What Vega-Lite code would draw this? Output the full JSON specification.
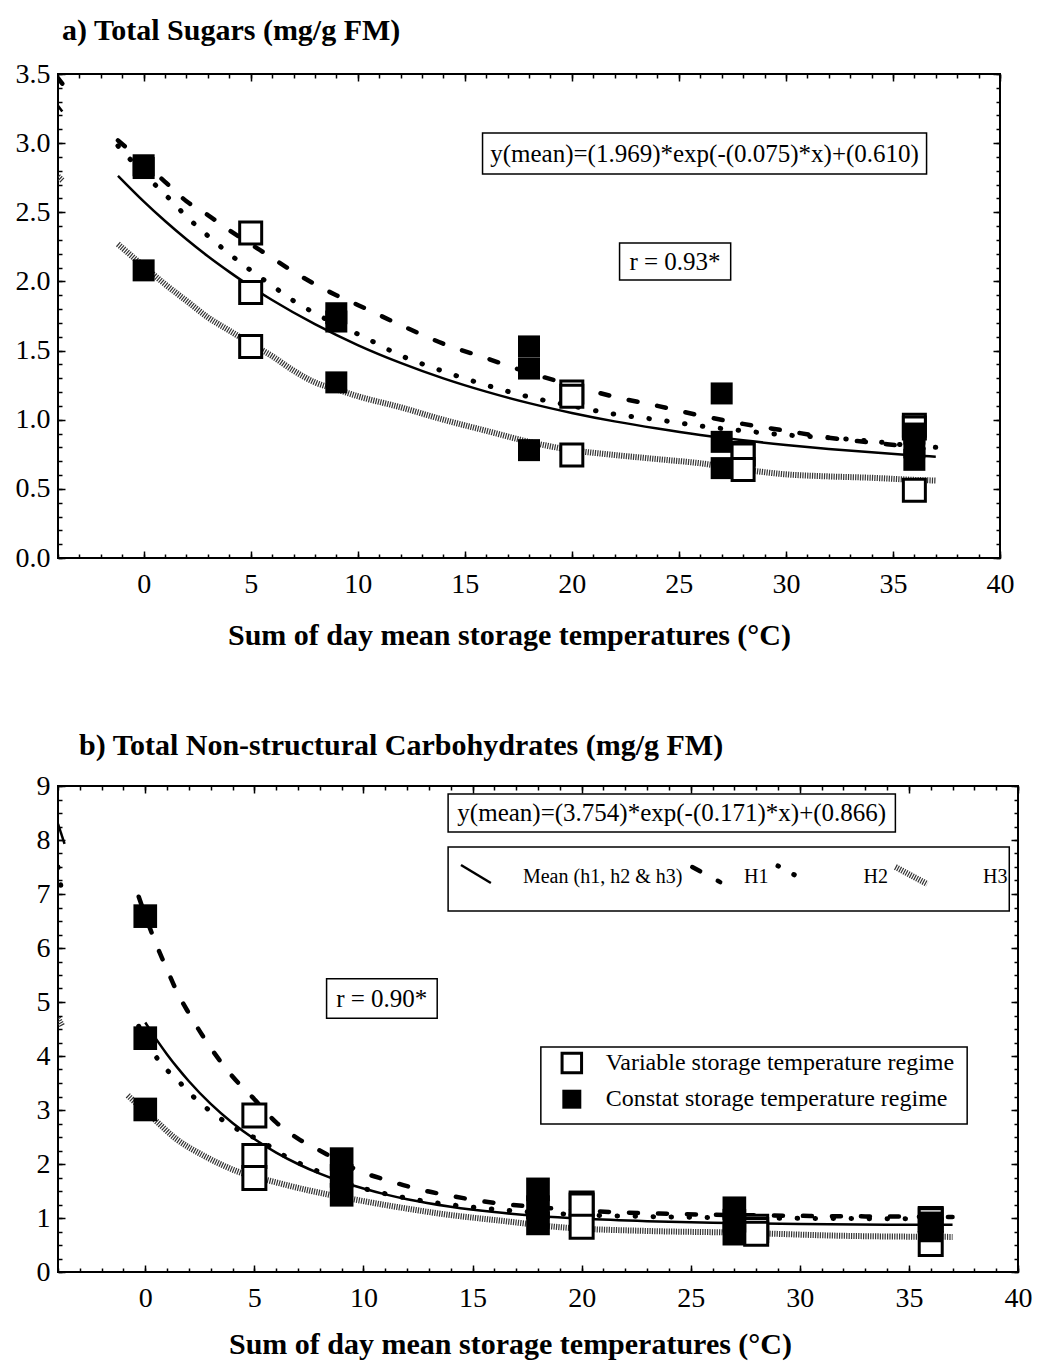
{
  "$schema": "https://vega.github.io/schema/vega-lite/v6.json",
  "background": "white",
  "padding": {"left": 14, "top": 15, "right": 5, "bottom": 2},
  "spacing": 79,
  "config": {
    "font": "Liberation Serif",
    "view": {"stroke": "black", "strokeWidth": 2},
    "axis": {"grid": false, "domain": false, "labelFont": "Liberation Serif", "labelFontSize": 28, "labelColor": "black", "titleFont": "Liberation Serif", "titleFontSize": 30, "titleFontWeight": "bold", "titleColor": "black", "tickColor": "black", "tickWidth": 1.5, "labelFlush": false, "labelOverlap": false},
    "title": {"font": "Liberation Serif", "fontSize": 30, "fontWeight": "bold", "anchor": "start", "frame": "group", "color": "black", "baseline": "bottom"},
    "text": {"font": "Liberation Serif", "color": "black"}
  },
  "datasets": {
    "boxesA": [
      {"x": 15.83, "x2": 36.57, "y": 3.073, "y2": 2.777},
      {"x": 22.23, "x2": 27.42, "y": 2.278, "y2": 2.01}
    ],
    "notesA": [
      {"x": 26.2, "y": 2.925, "t": "y(mean)=(1.969)*exp(-(0.075)*x)+(0.610)"},
      {"x": 24.82, "y": 2.144, "t": "r = 0.93*"}
    ],
    "ptsA": [
      {"x": 5, "y": 2.35, "r": "V"}, {"x": 5, "y": 1.92, "r": "V"}, {"x": 5, "y": 1.53, "r": "V"},
      {"x": 20, "y": 1.2, "r": "V"}, {"x": 20, "y": 1.17, "r": "V"}, {"x": 20, "y": 0.745, "r": "V"},
      {"x": 28, "y": 0.755, "r": "V"}, {"x": 28, "y": 0.745, "r": "V"}, {"x": 28, "y": 0.64, "r": "V"},
      {"x": 36, "y": 0.96, "r": "V"}, {"x": 36, "y": 0.94, "r": "V"}, {"x": 36, "y": 0.49, "r": "V"},
      {"x": 0, "y": 2.84, "r": "C"}, {"x": 0, "y": 2.82, "r": "C"}, {"x": 0, "y": 2.08, "r": "C"},
      {"x": 9, "y": 1.77, "r": "C"}, {"x": 9, "y": 1.71, "r": "C"}, {"x": 9, "y": 1.27, "r": "C"},
      {"x": 18, "y": 1.53, "r": "C"}, {"x": 18, "y": 1.37, "r": "C"}, {"x": 18, "y": 0.78, "r": "C"},
      {"x": 27, "y": 1.19, "r": "C"}, {"x": 27, "y": 0.84, "r": "C"}, {"x": 27, "y": 0.65, "r": "C"},
      {"x": 36, "y": 0.9, "r": "C"}, {"x": 36, "y": 0.8, "r": "C"}, {"x": 36, "y": 0.71, "r": "C"}
    ],
    "curvesA": [
      {"s": "Mean", "g": "e", "x": -4, "y": 3.27}, {"s": "Mean", "g": "e", "x": -3.8, "y": 3.228},
      {"s": "H1", "g": "e", "x": -4, "y": 3.47}, {"s": "H1", "g": "e", "x": -3.8, "y": 3.43},
      {"s": "H3", "g": "e", "x": -4, "y": 2.76}, {"s": "H3", "g": "e", "x": -3.8, "y": 2.73},
      {"s": "Mean", "g": "c", "x": -1.2, "y": 2.764}, {"s": "Mean", "g": "c", "x": 0, "y": 2.579}, {"s": "Mean", "g": "c", "x": 1, "y": 2.437}, {"s": "Mean", "g": "c", "x": 2, "y": 2.305}, {"s": "Mean", "g": "c", "x": 3, "y": 2.182}, {"s": "Mean", "g": "c", "x": 4, "y": 2.069}, {"s": "Mean", "g": "c", "x": 5, "y": 1.963}, {"s": "Mean", "g": "c", "x": 6, "y": 1.866}, {"s": "Mean", "g": "c", "x": 8, "y": 1.691}, {"s": "Mean", "g": "c", "x": 10, "y": 1.54}, {"s": "Mean", "g": "c", "x": 12, "y": 1.411}, {"s": "Mean", "g": "c", "x": 14, "y": 1.299}, {"s": "Mean", "g": "c", "x": 16, "y": 1.203}, {"s": "Mean", "g": "c", "x": 18, "y": 1.12}, {"s": "Mean", "g": "c", "x": 20, "y": 1.049}, {"s": "Mean", "g": "c", "x": 22, "y": 0.988}, {"s": "Mean", "g": "c", "x": 24, "y": 0.936}, {"s": "Mean", "g": "c", "x": 26, "y": 0.89}, {"s": "Mean", "g": "c", "x": 28, "y": 0.851}, {"s": "Mean", "g": "c", "x": 30, "y": 0.818}, {"s": "Mean", "g": "c", "x": 32, "y": 0.789}, {"s": "Mean", "g": "c", "x": 34, "y": 0.764}, {"s": "Mean", "g": "c", "x": 36, "y": 0.742}, {"s": "Mean", "g": "c", "x": 37, "y": 0.733},
      {"s": "H1", "g": "c", "x": -1.2, "y": 3.02}, {"s": "H1", "g": "c", "x": 0, "y": 2.86}, {"s": "H1", "g": "c", "x": 1, "y": 2.72}, {"s": "H1", "g": "c", "x": 2, "y": 2.58}, {"s": "H1", "g": "c", "x": 3, "y": 2.48}, {"s": "H1", "g": "c", "x": 4, "y": 2.37}, {"s": "H1", "g": "c", "x": 5, "y": 2.27}, {"s": "H1", "g": "c", "x": 6, "y": 2.17}, {"s": "H1", "g": "c", "x": 7, "y": 2.07}, {"s": "H1", "g": "c", "x": 8, "y": 1.98}, {"s": "H1", "g": "c", "x": 9, "y": 1.9}, {"s": "H1", "g": "c", "x": 10, "y": 1.83}, {"s": "H1", "g": "c", "x": 12, "y": 1.685}, {"s": "H1", "g": "c", "x": 14, "y": 1.55}, {"s": "H1", "g": "c", "x": 16, "y": 1.445}, {"s": "H1", "g": "c", "x": 18, "y": 1.34}, {"s": "H1", "g": "c", "x": 20, "y": 1.25}, {"s": "H1", "g": "c", "x": 22, "y": 1.165}, {"s": "H1", "g": "c", "x": 24, "y": 1.1}, {"s": "H1", "g": "c", "x": 26, "y": 1.03}, {"s": "H1", "g": "c", "x": 28, "y": 0.97}, {"s": "H1", "g": "c", "x": 30, "y": 0.92}, {"s": "H1", "g": "c", "x": 32, "y": 0.87}, {"s": "H1", "g": "c", "x": 34, "y": 0.835}, {"s": "H1", "g": "c", "x": 36, "y": 0.8}, {"s": "H1", "g": "c", "x": 37, "y": 0.78},
      {"s": "H2", "g": "c", "x": -1.2, "y": 2.98}, {"s": "H2", "g": "c", "x": 0, "y": 2.78}, {"s": "H2", "g": "c", "x": 1, "y": 2.63}, {"s": "H2", "g": "c", "x": 2, "y": 2.47}, {"s": "H2", "g": "c", "x": 3, "y": 2.33}, {"s": "H2", "g": "c", "x": 4, "y": 2.2}, {"s": "H2", "g": "c", "x": 5, "y": 2.08}, {"s": "H2", "g": "c", "x": 6, "y": 1.97}, {"s": "H2", "g": "c", "x": 7, "y": 1.86}, {"s": "H2", "g": "c", "x": 8, "y": 1.77}, {"s": "H2", "g": "c", "x": 9, "y": 1.69}, {"s": "H2", "g": "c", "x": 10, "y": 1.62}, {"s": "H2", "g": "c", "x": 12, "y": 1.465}, {"s": "H2", "g": "c", "x": 14, "y": 1.35}, {"s": "H2", "g": "c", "x": 16, "y": 1.25}, {"s": "H2", "g": "c", "x": 18, "y": 1.165}, {"s": "H2", "g": "c", "x": 20, "y": 1.1}, {"s": "H2", "g": "c", "x": 22, "y": 1.04}, {"s": "H2", "g": "c", "x": 24, "y": 1.0}, {"s": "H2", "g": "c", "x": 26, "y": 0.955}, {"s": "H2", "g": "c", "x": 28, "y": 0.92}, {"s": "H2", "g": "c", "x": 30, "y": 0.89}, {"s": "H2", "g": "c", "x": 32, "y": 0.87}, {"s": "H2", "g": "c", "x": 34, "y": 0.845}, {"s": "H2", "g": "c", "x": 36, "y": 0.81}, {"s": "H2", "g": "c", "x": 37, "y": 0.8},
      {"s": "H3", "g": "c", "x": -1.2, "y": 2.27}, {"s": "H3", "g": "c", "x": 0, "y": 2.11}, {"s": "H3", "g": "c", "x": 1, "y": 1.98}, {"s": "H3", "g": "c", "x": 2, "y": 1.86}, {"s": "H3", "g": "c", "x": 3, "y": 1.74}, {"s": "H3", "g": "c", "x": 4, "y": 1.645}, {"s": "H3", "g": "c", "x": 5, "y": 1.55}, {"s": "H3", "g": "c", "x": 6, "y": 1.46}, {"s": "H3", "g": "c", "x": 7, "y": 1.355}, {"s": "H3", "g": "c", "x": 8, "y": 1.27}, {"s": "H3", "g": "c", "x": 9, "y": 1.22}, {"s": "H3", "g": "c", "x": 10, "y": 1.17}, {"s": "H3", "g": "c", "x": 12, "y": 1.09}, {"s": "H3", "g": "c", "x": 14, "y": 1.0}, {"s": "H3", "g": "c", "x": 16, "y": 0.92}, {"s": "H3", "g": "c", "x": 18, "y": 0.84}, {"s": "H3", "g": "c", "x": 20, "y": 0.78}, {"s": "H3", "g": "c", "x": 22, "y": 0.745}, {"s": "H3", "g": "c", "x": 24, "y": 0.715}, {"s": "H3", "g": "c", "x": 26, "y": 0.685}, {"s": "H3", "g": "c", "x": 28, "y": 0.64}, {"s": "H3", "g": "c", "x": 30, "y": 0.605}, {"s": "H3", "g": "c", "x": 32, "y": 0.59}, {"s": "H3", "g": "c", "x": 34, "y": 0.58}, {"s": "H3", "g": "c", "x": 36, "y": 0.565}, {"s": "H3", "g": "c", "x": 37, "y": 0.56}
    ],
    "boxesB": [
      {"x": 13.88, "x2": 34.38, "y": 8.85, "y2": 8.15},
      {"x": 13.88, "x2": 39.6, "y": 7.87, "y2": 6.685},
      {"x": 8.31, "x2": 13.38, "y": 5.43, "y2": 4.7},
      {"x": 18.13, "x2": 37.67, "y": 4.167, "y2": 2.74}
    ],
    "notesB": [
      {"x": 24.13, "y": 8.5, "t": "y(mean)=(3.754)*exp(-(0.171)*x)+(0.866)"},
      {"x": 10.84, "y": 5.06, "t": "r = 0.90*"}
    ],
    "legTextB": [
      {"x": 17.31, "y": 7.315, "t": "Mean (h1, h2 & h3)"},
      {"x": 27.44, "y": 7.315, "t": "H1"},
      {"x": 32.92, "y": 7.315, "t": "H2"},
      {"x": 38.4, "y": 7.315, "t": "H3"}
    ],
    "regTextB": [
      {"x": 21.1, "y": 3.87, "t": "Variable storage temperature regime", "r": "V"},
      {"x": 21.1, "y": 3.2, "t": "Constat storage temperature regime", "r": "C"}
    ],
    "ptsB": [
      {"x": 5, "y": 2.9, "r": "V"}, {"x": 5, "y": 2.15, "r": "V"}, {"x": 5, "y": 1.74, "r": "V"},
      {"x": 20, "y": 1.27, "r": "V"}, {"x": 20, "y": 1.23, "r": "V"}, {"x": 20, "y": 0.84, "r": "V"},
      {"x": 28, "y": 0.84, "r": "V"}, {"x": 28, "y": 0.78, "r": "V"}, {"x": 28, "y": 0.71, "r": "V"},
      {"x": 36, "y": 0.98, "r": "V"}, {"x": 36, "y": 0.96, "r": "V"}, {"x": 36, "y": 0.52, "r": "V"},
      {"x": 0, "y": 6.59, "r": "C"}, {"x": 0, "y": 4.33, "r": "C"}, {"x": 0, "y": 3.01, "r": "C"},
      {"x": 9, "y": 2.09, "r": "C"}, {"x": 9, "y": 1.78, "r": "C"}, {"x": 9, "y": 1.43, "r": "C"},
      {"x": 18, "y": 1.53, "r": "C"}, {"x": 18, "y": 1.2, "r": "C"}, {"x": 18, "y": 0.9, "r": "C"},
      {"x": 27, "y": 1.18, "r": "C"}, {"x": 27, "y": 0.95, "r": "C"}, {"x": 27, "y": 0.71, "r": "C"},
      {"x": 36, "y": 0.9, "r": "C"}, {"x": 36, "y": 0.83, "r": "C"}, {"x": 36, "y": 0.77, "r": "C"}
    ],
    "regSymB": [
      {"x": 19.55, "y": 3.87, "r": "V"},
      {"x": 19.55, "y": 3.2, "r": "C"}
    ],
    "curvesB": [
      {"s": "Mean", "g": "e", "x": -4, "y": 8.3}, {"s": "Mean", "g": "e", "x": -3.7, "y": 7.93},
      {"s": "H2", "g": "e", "x": -4, "y": 7.5}, {"s": "H2", "g": "e", "x": -3.85, "y": 7.1},
      {"s": "H3", "g": "e", "x": -4, "y": 4.7}, {"s": "H3", "g": "e", "x": -3.8, "y": 4.55},
      {"s": "Mean", "g": "c", "x": 0, "y": 4.62}, {"s": "Mean", "g": "c", "x": 0.5, "y": 4.312}, {"s": "Mean", "g": "c", "x": 1, "y": 4.03}, {"s": "Mean", "g": "c", "x": 1.5, "y": 3.771}, {"s": "Mean", "g": "c", "x": 2, "y": 3.533}, {"s": "Mean", "g": "c", "x": 3, "y": 3.113}, {"s": "Mean", "g": "c", "x": 4, "y": 2.76}, {"s": "Mean", "g": "c", "x": 5, "y": 2.463}, {"s": "Mean", "g": "c", "x": 6, "y": 2.212}, {"s": "Mean", "g": "c", "x": 7, "y": 2.0}, {"s": "Mean", "g": "c", "x": 8, "y": 1.822}, {"s": "Mean", "g": "c", "x": 9, "y": 1.672}, {"s": "Mean", "g": "c", "x": 10, "y": 1.545}, {"s": "Mean", "g": "c", "x": 11, "y": 1.438}, {"s": "Mean", "g": "c", "x": 12, "y": 1.348}, {"s": "Mean", "g": "c", "x": 14, "y": 1.209}, {"s": "Mean", "g": "c", "x": 16, "y": 1.109}, {"s": "Mean", "g": "c", "x": 18, "y": 1.039}, {"s": "Mean", "g": "c", "x": 20, "y": 0.989}, {"s": "Mean", "g": "c", "x": 23, "y": 0.94}, {"s": "Mean", "g": "c", "x": 26, "y": 0.91}, {"s": "Mean", "g": "c", "x": 30, "y": 0.888}, {"s": "Mean", "g": "c", "x": 34, "y": 0.877}, {"s": "Mean", "g": "c", "x": 37, "y": 0.873},
      {"s": "H1", "g": "c", "x": -0.3, "y": 6.95}, {"s": "H1", "g": "c", "x": 0, "y": 6.6}, {"s": "H1", "g": "c", "x": 0.5, "y": 6.07}, {"s": "H1", "g": "c", "x": 1, "y": 5.6}, {"s": "H1", "g": "c", "x": 1.5, "y": 5.15}, {"s": "H1", "g": "c", "x": 2, "y": 4.79}, {"s": "H1", "g": "c", "x": 3, "y": 4.15}, {"s": "H1", "g": "c", "x": 4, "y": 3.62}, {"s": "H1", "g": "c", "x": 5, "y": 3.2}, {"s": "H1", "g": "c", "x": 6, "y": 2.77}, {"s": "H1", "g": "c", "x": 7, "y": 2.47}, {"s": "H1", "g": "c", "x": 8, "y": 2.25}, {"s": "H1", "g": "c", "x": 9, "y": 2.03}, {"s": "H1", "g": "c", "x": 10, "y": 1.84}, {"s": "H1", "g": "c", "x": 11, "y": 1.71}, {"s": "H1", "g": "c", "x": 12, "y": 1.59}, {"s": "H1", "g": "c", "x": 13, "y": 1.49}, {"s": "H1", "g": "c", "x": 14, "y": 1.41}, {"s": "H1", "g": "c", "x": 16, "y": 1.28}, {"s": "H1", "g": "c", "x": 18, "y": 1.2}, {"s": "H1", "g": "c", "x": 20, "y": 1.14}, {"s": "H1", "g": "c", "x": 22, "y": 1.1}, {"s": "H1", "g": "c", "x": 24, "y": 1.08}, {"s": "H1", "g": "c", "x": 26, "y": 1.06}, {"s": "H1", "g": "c", "x": 28, "y": 1.05}, {"s": "H1", "g": "c", "x": 30, "y": 1.04}, {"s": "H1", "g": "c", "x": 33, "y": 1.03}, {"s": "H1", "g": "c", "x": 37, "y": 1.02},
      {"s": "H2", "g": "c", "x": -0.3, "y": 4.55}, {"s": "H2", "g": "c", "x": 0, "y": 4.33}, {"s": "H2", "g": "c", "x": 0.64, "y": 3.9}, {"s": "H2", "g": "c", "x": 1.44, "y": 3.57}, {"s": "H2", "g": "c", "x": 2.22, "y": 3.24}, {"s": "H2", "g": "c", "x": 3.14, "y": 2.93}, {"s": "H2", "g": "c", "x": 4.06, "y": 2.68}, {"s": "H2", "g": "c", "x": 5.37, "y": 2.41}, {"s": "H2", "g": "c", "x": 6.4, "y": 2.15}, {"s": "H2", "g": "c", "x": 8, "y": 1.85}, {"s": "H2", "g": "c", "x": 9.55, "y": 1.6}, {"s": "H2", "g": "c", "x": 11, "y": 1.45}, {"s": "H2", "g": "c", "x": 13, "y": 1.3}, {"s": "H2", "g": "c", "x": 15, "y": 1.2}, {"s": "H2", "g": "c", "x": 17, "y": 1.13}, {"s": "H2", "g": "c", "x": 20, "y": 1.06}, {"s": "H2", "g": "c", "x": 24, "y": 1.02}, {"s": "H2", "g": "c", "x": 28, "y": 1.0}, {"s": "H2", "g": "c", "x": 32, "y": 0.99}, {"s": "H2", "g": "c", "x": 37, "y": 0.98},
      {"s": "H3", "g": "c", "x": -0.8, "y": 3.27}, {"s": "H3", "g": "c", "x": 0, "y": 2.97}, {"s": "H3", "g": "c", "x": 0.4, "y": 2.83}, {"s": "H3", "g": "c", "x": 1.4, "y": 2.47}, {"s": "H3", "g": "c", "x": 2.7, "y": 2.15}, {"s": "H3", "g": "c", "x": 4.3, "y": 1.85}, {"s": "H3", "g": "c", "x": 5.9, "y": 1.67}, {"s": "H3", "g": "c", "x": 7.5, "y": 1.51}, {"s": "H3", "g": "c", "x": 9.5, "y": 1.35}, {"s": "H3", "g": "c", "x": 11.6, "y": 1.2}, {"s": "H3", "g": "c", "x": 13.7, "y": 1.07}, {"s": "H3", "g": "c", "x": 16.3, "y": 0.95}, {"s": "H3", "g": "c", "x": 19, "y": 0.83}, {"s": "H3", "g": "c", "x": 23, "y": 0.76}, {"s": "H3", "g": "c", "x": 27, "y": 0.73}, {"s": "H3", "g": "c", "x": 32, "y": 0.67}, {"s": "H3", "g": "c", "x": 37, "y": 0.65},
      {"s": "Mean", "g": "leg", "x": 14.47, "y": 7.537}, {"s": "Mean", "g": "leg", "x": 15.84, "y": 7.204},
      {"s": "H1", "g": "leg", "x": 25.07, "y": 7.5}, {"s": "H1", "g": "leg", "x": 26.35, "y": 7.22},
      {"s": "H2", "g": "leg", "x": 29.0, "y": 7.52}, {"s": "H2", "g": "leg", "x": 30.27, "y": 7.24},
      {"s": "H3", "g": "leg", "x": 34.38, "y": 7.5}, {"s": "H3", "g": "leg", "x": 35.84, "y": 7.185}
    ]
  },
  "vconcat": [
    {
      "width": 942,
      "height": 484,
      "title": {"text": "a) Total Sugars (mg/g FM)", "dx": 4, "offset": 14},
      "resolve": {"axis": {"x": "independent", "y": "independent"}},
      "layer": [
        {
          "data": {"name": "boxesA"},
          "mark": {"type": "rect", "fill": "white", "stroke": "black", "strokeWidth": 1.5},
          "encoding": {
            "x": {"field": "x", "type": "quantitative", "scale": {"domain": [-4, 40], "nice": false, "zero": false}, "axis": {"orient": "bottom", "values": [0, 5, 10, 15, 20, 25, 30, 35, 40], "ticks": false, "labelPadding": 12, "title": "Sum of day mean storage temperatures (°C)", "titlePadding": 22, "titleX": 451, "titleAlign": "center"}},
            "x2": {"field": "x2"},
            "y": {"field": "y", "type": "quantitative", "scale": {"domain": [0, 3.5], "nice": false, "zero": false}, "axis": {"orient": "left", "values": [0, 0.5, 1, 1.5, 2, 2.5, 3, 3.5], "format": ".1f", "ticks": false, "labelPadding": 8, "title": null}},
            "y2": {"field": "y2"}
          }
        },
        {
          "data": {"name": "curvesA"},
          "transform": [{"filter": "datum.s === 'Mean'"}],
          "mark": {"type": "line", "color": "black", "strokeWidth": 2.5, "interpolate": "monotone", "clip": true},
          "encoding": {
            "x": {"field": "x", "type": "quantitative", "scale": {"domain": [-4, 40], "nice": false, "zero": false}, "axis": {"orient": "bottom", "values": [-4, -3, -2, -1, 0, 1, 2, 3, 4, 5, 6, 7, 8, 9, 10, 11, 12, 13, 14, 15, 16, 17, 18, 19, 20, 21, 22, 23, 24, 25, 26, 27, 28, 29, 30, 31, 32, 33, 34, 35, 36, 37, 38, 39, 40], "labels": false, "tickSize": -4, "title": null}},
            "y": {"field": "y", "type": "quantitative", "scale": {"domain": [0, 3.5], "nice": false, "zero": false}, "axis": {"orient": "left", "values": [0, 0.1, 0.2, 0.3, 0.4, 0.5, 0.6, 0.7, 0.8, 0.9, 1, 1.1, 1.2, 1.3, 1.4, 1.5, 1.6, 1.7, 1.8, 1.9, 2, 2.1, 2.2, 2.3, 2.4, 2.5, 2.6, 2.7, 2.8, 2.9, 3, 3.1, 3.2, 3.3, 3.4, 3.5], "labels": false, "tickSize": -4, "title": null}},
            "detail": {"field": "g"}
          }
        },
        {
          "data": {"name": "curvesA"},
          "transform": [{"filter": "datum.s === 'H1'"}],
          "mark": {"type": "line", "color": "black", "strokeWidth": 4.5, "strokeDash": [9, 20], "strokeCap": "round", "interpolate": "monotone", "clip": true},
          "encoding": {
            "x": {"field": "x", "type": "quantitative", "scale": {"domain": [-4, 40], "nice": false, "zero": false}, "axis": {"orient": "bottom", "values": [0, 5, 10, 15, 20, 25, 30, 35, 40], "labels": false, "tickSize": -7, "title": null}},
            "y": {"field": "y", "type": "quantitative", "scale": {"domain": [0, 3.5], "nice": false, "zero": false}, "axis": {"orient": "left", "values": [0, 0.5, 1, 1.5, 2, 2.5, 3, 3.5], "labels": false, "tickSize": -7, "title": null}},
            "detail": {"field": "g"}
          }
        },
        {
          "data": {"name": "curvesA"},
          "transform": [{"filter": "datum.s === 'H2'"}],
          "mark": {"type": "line", "color": "black", "strokeWidth": 5, "strokeDash": [0.5, 17.5], "strokeCap": "round", "interpolate": "monotone", "clip": true},
          "encoding": {
            "x": {"field": "x", "type": "quantitative", "scale": {"domain": [-4, 40], "nice": false, "zero": false}, "axis": {"orient": "top", "values": [-4, -3, -2, -1, 0, 1, 2, 3, 4, 5, 6, 7, 8, 9, 10, 11, 12, 13, 14, 15, 16, 17, 18, 19, 20, 21, 22, 23, 24, 25, 26, 27, 28, 29, 30, 31, 32, 33, 34, 35, 36, 37, 38, 39, 40], "labels": false, "tickSize": -4, "title": null}},
            "y": {"field": "y", "type": "quantitative", "scale": {"domain": [0, 3.5], "nice": false, "zero": false}, "axis": {"orient": "right", "values": [0, 0.1, 0.2, 0.3, 0.4, 0.5, 0.6, 0.7, 0.8, 0.9, 1, 1.1, 1.2, 1.3, 1.4, 1.5, 1.6, 1.7, 1.8, 1.9, 2, 2.1, 2.2, 2.3, 2.4, 2.5, 2.6, 2.7, 2.8, 2.9, 3, 3.1, 3.2, 3.3, 3.4, 3.5], "labels": false, "tickSize": -4, "title": null}},
            "detail": {"field": "g"}
          }
        },
        {
          "data": {"name": "curvesA"},
          "transform": [{"filter": "datum.s === 'H3'"}],
          "mark": {"type": "line", "color": "#333333", "strokeWidth": 6, "strokeDash": [1.2, 1.2], "interpolate": "monotone", "clip": true},
          "encoding": {
            "x": {"field": "x", "type": "quantitative", "scale": {"domain": [-4, 40], "nice": false, "zero": false}, "axis": {"orient": "top", "values": [0, 5, 10, 15, 20, 25, 30, 35, 40], "labels": false, "tickSize": -7, "title": null}},
            "y": {"field": "y", "type": "quantitative", "scale": {"domain": [0, 3.5], "nice": false, "zero": false}, "axis": {"orient": "right", "values": [0, 0.5, 1, 1.5, 2, 2.5, 3, 3.5], "labels": false, "tickSize": -7, "title": null}},
            "detail": {"field": "g"}
          }
        },
        {
          "data": {"name": "ptsA"},
          "transform": [{"filter": "datum.r === 'V'"}],
          "mark": {"type": "square", "filled": true, "fill": "white", "stroke": "black", "strokeWidth": 3, "size": 484, "opacity": 1},
          "encoding": {
            "x": {"field": "x", "type": "quantitative", "scale": {"domain": [-4, 40], "nice": false, "zero": false}, "axis": null},
            "y": {"field": "y", "type": "quantitative", "scale": {"domain": [0, 3.5], "nice": false, "zero": false}, "axis": null}
          }
        },
        {
          "data": {"name": "ptsA"},
          "transform": [{"filter": "datum.r === 'C'"}],
          "mark": {"type": "square", "filled": true, "color": "black", "size": 484, "opacity": 1},
          "encoding": {
            "x": {"field": "x", "type": "quantitative", "scale": {"domain": [-4, 40], "nice": false, "zero": false}, "axis": null},
            "y": {"field": "y", "type": "quantitative", "scale": {"domain": [0, 3.5], "nice": false, "zero": false}, "axis": null}
          }
        },
        {
          "data": {"name": "notesA"},
          "mark": {"type": "text", "fontSize": 25, "align": "center", "baseline": "middle"},
          "encoding": {
            "x": {"field": "x", "type": "quantitative", "scale": {"domain": [-4, 40], "nice": false, "zero": false}, "axis": null},
            "y": {"field": "y", "type": "quantitative", "scale": {"domain": [0, 3.5], "nice": false, "zero": false}, "axis": null},
            "text": {"field": "t"}
          }
        }
      ]
    },
    {
      "width": 960,
      "height": 486,
      "title": {"text": "b) Total Non-structural Carbohydrates (mg/g FM)", "dx": 21, "offset": 11},
      "resolve": {"axis": {"x": "independent", "y": "independent"}},
      "layer": [
        {
          "data": {"name": "boxesB"},
          "mark": {"type": "rect", "fill": "white", "stroke": "black", "strokeWidth": 1.5},
          "encoding": {
            "x": {"field": "x", "type": "quantitative", "scale": {"domain": [-4, 40], "nice": false, "zero": false}, "axis": {"orient": "bottom", "values": [0, 5, 10, 15, 20, 25, 30, 35, 40], "ticks": false, "labelPadding": 12, "title": "Sum of day mean storage temperatures (°C)", "titlePadding": 17, "titleX": 452, "titleAlign": "center"}},
            "x2": {"field": "x2"},
            "y": {"field": "y", "type": "quantitative", "scale": {"domain": [0, 9], "nice": false, "zero": false}, "axis": {"orient": "left", "values": [0, 1, 2, 3, 4, 5, 6, 7, 8, 9], "format": "d", "ticks": false, "labelPadding": 8, "title": null}},
            "y2": {"field": "y2"}
          }
        },
        {
          "data": {"name": "curvesB"},
          "transform": [{"filter": "datum.s === 'Mean'"}],
          "mark": {"type": "line", "color": "black", "strokeWidth": 2.5, "interpolate": "monotone", "clip": true},
          "encoding": {
            "x": {"field": "x", "type": "quantitative", "scale": {"domain": [-4, 40], "nice": false, "zero": false}, "axis": {"orient": "bottom", "values": [-4, -3, -2, -1, 0, 1, 2, 3, 4, 5, 6, 7, 8, 9, 10, 11, 12, 13, 14, 15, 16, 17, 18, 19, 20, 21, 22, 23, 24, 25, 26, 27, 28, 29, 30, 31, 32, 33, 34, 35, 36, 37, 38, 39, 40], "labels": false, "tickSize": -4, "title": null}},
            "y": {"field": "y", "type": "quantitative", "scale": {"domain": [0, 9], "nice": false, "zero": false}, "axis": {"orient": "left", "values": [0, 0.25, 0.5, 0.75, 1, 1.25, 1.5, 1.75, 2, 2.25, 2.5, 2.75, 3, 3.25, 3.5, 3.75, 4, 4.25, 4.5, 4.75, 5, 5.25, 5.5, 5.75, 6, 6.25, 6.5, 6.75, 7, 7.25, 7.5, 7.75, 8, 8.25, 8.5, 8.75, 9], "labels": false, "tickSize": -4, "title": null}},
            "detail": {"field": "g"}
          }
        },
        {
          "data": {"name": "curvesB"},
          "transform": [{"filter": "datum.s === 'H1'"}],
          "mark": {"type": "line", "color": "black", "strokeWidth": 4.5, "strokeDash": [9, 20], "strokeCap": "round", "interpolate": "monotone", "clip": true},
          "encoding": {
            "x": {"field": "x", "type": "quantitative", "scale": {"domain": [-4, 40], "nice": false, "zero": false}, "axis": {"orient": "bottom", "values": [0, 5, 10, 15, 20, 25, 30, 35, 40], "labels": false, "tickSize": -7, "title": null}},
            "y": {"field": "y", "type": "quantitative", "scale": {"domain": [0, 9], "nice": false, "zero": false}, "axis": {"orient": "left", "values": [0, 1, 2, 3, 4, 5, 6, 7, 8, 9], "labels": false, "tickSize": -7, "title": null}},
            "detail": {"field": "g"}
          }
        },
        {
          "data": {"name": "curvesB"},
          "transform": [{"filter": "datum.s === 'H2'"}],
          "mark": {"type": "line", "color": "black", "strokeWidth": 5, "strokeDash": [0.5, 17.5], "strokeCap": "round", "interpolate": "monotone", "clip": true},
          "encoding": {
            "x": {"field": "x", "type": "quantitative", "scale": {"domain": [-4, 40], "nice": false, "zero": false}, "axis": {"orient": "top", "values": [-4, -3, -2, -1, 0, 1, 2, 3, 4, 5, 6, 7, 8, 9, 10, 11, 12, 13, 14, 15, 16, 17, 18, 19, 20, 21, 22, 23, 24, 25, 26, 27, 28, 29, 30, 31, 32, 33, 34, 35, 36, 37, 38, 39, 40], "labels": false, "tickSize": -4, "title": null}},
            "y": {"field": "y", "type": "quantitative", "scale": {"domain": [0, 9], "nice": false, "zero": false}, "axis": {"orient": "right", "values": [0, 0.25, 0.5, 0.75, 1, 1.25, 1.5, 1.75, 2, 2.25, 2.5, 2.75, 3, 3.25, 3.5, 3.75, 4, 4.25, 4.5, 4.75, 5, 5.25, 5.5, 5.75, 6, 6.25, 6.5, 6.75, 7, 7.25, 7.5, 7.75, 8, 8.25, 8.5, 8.75, 9], "labels": false, "tickSize": -4, "title": null}},
            "detail": {"field": "g"}
          }
        },
        {
          "data": {"name": "curvesB"},
          "transform": [{"filter": "datum.s === 'H3'"}],
          "mark": {"type": "line", "color": "#333333", "strokeWidth": 6, "strokeDash": [1.2, 1.2], "interpolate": "monotone", "clip": true},
          "encoding": {
            "x": {"field": "x", "type": "quantitative", "scale": {"domain": [-4, 40], "nice": false, "zero": false}, "axis": {"orient": "top", "values": [0, 5, 10, 15, 20, 25, 30, 35, 40], "labels": false, "tickSize": -7, "title": null}},
            "y": {"field": "y", "type": "quantitative", "scale": {"domain": [0, 9], "nice": false, "zero": false}, "axis": {"orient": "right", "values": [0, 1, 2, 3, 4, 5, 6, 7, 8, 9], "labels": false, "tickSize": -7, "title": null}},
            "detail": {"field": "g"}
          }
        },
        {
          "data": {"name": "ptsB"},
          "transform": [{"filter": "datum.r === 'V'"}],
          "mark": {"type": "square", "filled": true, "fill": "white", "stroke": "black", "strokeWidth": 3, "size": 529, "opacity": 1},
          "encoding": {
            "x": {"field": "x", "type": "quantitative", "scale": {"domain": [-4, 40], "nice": false, "zero": false}, "axis": null},
            "y": {"field": "y", "type": "quantitative", "scale": {"domain": [0, 9], "nice": false, "zero": false}, "axis": null}
          }
        },
        {
          "data": {"name": "ptsB"},
          "transform": [{"filter": "datum.r === 'C'"}],
          "mark": {"type": "square", "filled": true, "color": "black", "size": 560, "opacity": 1},
          "encoding": {
            "x": {"field": "x", "type": "quantitative", "scale": {"domain": [-4, 40], "nice": false, "zero": false}, "axis": null},
            "y": {"field": "y", "type": "quantitative", "scale": {"domain": [0, 9], "nice": false, "zero": false}, "axis": null}
          }
        },
        {
          "data": {"name": "regSymB"},
          "transform": [{"filter": "datum.r === 'V'"}],
          "mark": {"type": "square", "filled": true, "fill": "white", "stroke": "black", "strokeWidth": 3, "size": 380, "opacity": 1},
          "encoding": {
            "x": {"field": "x", "type": "quantitative", "scale": {"domain": [-4, 40], "nice": false, "zero": false}, "axis": null},
            "y": {"field": "y", "type": "quantitative", "scale": {"domain": [0, 9], "nice": false, "zero": false}, "axis": null}
          }
        },
        {
          "data": {"name": "regSymB"},
          "transform": [{"filter": "datum.r === 'C'"}],
          "mark": {"type": "square", "filled": true, "color": "black", "size": 360, "opacity": 1},
          "encoding": {
            "x": {"field": "x", "type": "quantitative", "scale": {"domain": [-4, 40], "nice": false, "zero": false}, "axis": null},
            "y": {"field": "y", "type": "quantitative", "scale": {"domain": [0, 9], "nice": false, "zero": false}, "axis": null}
          }
        },
        {
          "data": {"name": "notesB"},
          "mark": {"type": "text", "fontSize": 25, "align": "center", "baseline": "middle"},
          "encoding": {
            "x": {"field": "x", "type": "quantitative", "scale": {"domain": [-4, 40], "nice": false, "zero": false}, "axis": null},
            "y": {"field": "y", "type": "quantitative", "scale": {"domain": [0, 9], "nice": false, "zero": false}, "axis": null},
            "text": {"field": "t"}
          }
        },
        {
          "data": {"name": "legTextB"},
          "mark": {"type": "text", "fontSize": 20, "align": "left", "baseline": "middle"},
          "encoding": {
            "x": {"field": "x", "type": "quantitative", "scale": {"domain": [-4, 40], "nice": false, "zero": false}, "axis": null},
            "y": {"field": "y", "type": "quantitative", "scale": {"domain": [0, 9], "nice": false, "zero": false}, "axis": null},
            "text": {"field": "t"}
          }
        },
        {
          "data": {"name": "regTextB"},
          "mark": {"type": "text", "fontSize": 24, "align": "left", "baseline": "middle"},
          "encoding": {
            "x": {"field": "x", "type": "quantitative", "scale": {"domain": [-4, 40], "nice": false, "zero": false}, "axis": null},
            "y": {"field": "y", "type": "quantitative", "scale": {"domain": [0, 9], "nice": false, "zero": false}, "axis": null},
            "text": {"field": "t"}
          }
        }
      ]
    }
  ]
}
